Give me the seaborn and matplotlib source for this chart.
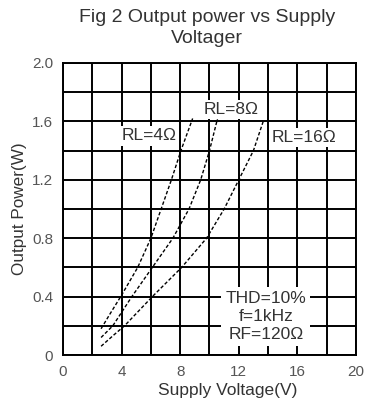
import matplotlib
matplotlib.use("Agg")
import matplotlib.pyplot as plt
import seaborn as sns
import pandas as pd

# Data
v_4 = [2.6, 3.2, 4.0, 5.1, 6.0, 6.7, 7.4, 8.05, 8.85]
p_4 = [0.18, 0.28, 0.41, 0.60, 0.80, 1.00, 1.20, 1.40, 1.62]
v_8 = [2.6, 3.4, 4.7, 6.1, 7.5, 8.6, 9.4, 10.0, 10.55]
p_8 = [0.12, 0.20, 0.40, 0.60, 0.80, 1.00, 1.20, 1.40, 1.62]
v_16 = [2.6, 3.5, 4.2, 6.1, 8.1, 9.8, 11.0, 12.0, 13.0, 13.7]
p_16 = [0.06, 0.14, 0.20, 0.40, 0.60, 0.80, 1.00, 1.20, 1.40, 1.61]

x_ticks = [0, 4, 8, 12, 16, 20]
y_ticks = [0, 0.4, 0.8, 1.2, 1.6, 2.0]
y_tick_labels = ["0", "0.4", "0.8", "1.2", "1.6", "2.0"]

title = "Fig 2 Output power vs Supply\nVoltager"
x_label = "Supply Voltage(V)"
y_label = "Output Power(W)"
curve_labels = ["RL=4Ω", "RL=8Ω", "RL=16Ω"]
cond_text = "THD=10%\nf=1kHz\nRF=120Ω"

sns.set_style("white")
plt.rcParams["font.family"] = ["Liberation Sans", "DejaVu Sans"]

df = pd.concat([
    pd.DataFrame({"V": v_4, "P": p_4, "RL": curve_labels[0]}),
    pd.DataFrame({"V": v_8, "P": p_8, "RL": curve_labels[1]}),
    pd.DataFrame({"V": v_16, "P": p_16, "RL": curve_labels[2]}),
], ignore_index=True)

fig = plt.figure(figsize=(3.65, 4.03), dpi=100)
ax = fig.add_axes([0.1726, 0.1191, 0.8027, 0.7246])

sns.lineplot(data=df, x="V", y="P", units="RL", estimator=None, sort=False,
             color="black", lw=1.0, ax=ax, legend=False, zorder=3)
for ln in ax.lines:
    ln.set_linestyle((0, (2.5, 1.5)))

ax.set_xlim(0, 20)
ax.set_ylim(0, 2.0)
ax.set_xticks(x_ticks)
ax.set_yticks(y_ticks)
ax.set_yticklabels(y_tick_labels)
ax.set_xticks([i for i in range(2, 20, 4)], minor=True)
ax.set_yticks([0.2, 0.6, 1.0, 1.4, 1.8], minor=True)
ax.grid(True, which="both", color="black", lw=1.4)
ax.set_axisbelow(True)
ax.tick_params(which="both", length=0, labelsize=11, colors="#555555")
ax.tick_params(axis="y", pad=7)
ax.tick_params(axis="x", pad=7)
for s in ax.spines.values():
    s.set_color("black")
    s.set_linewidth(1.4)

ax.set_xlabel(x_label, fontsize=12.5, color="#333333", va="center")
ax.xaxis.set_label_coords(0.561, -0.123)
ax.set_ylabel(y_label, fontsize=12.3, color="#333333", va="center")
ax.yaxis.set_label_coords(-0.147, 0.5)
fig.suptitle(title, fontsize=14, color="#333333", x=0.568, y=0.978,
             linespacing=1.3)

bb = dict(facecolor="white", edgecolor="none", pad=1.5)
ax.text(5.9, 1.5, curve_labels[0], fontsize=12.5, ha="center", va="center",
        color="#333333", bbox=bb, zorder=4)
ax.text(11.5, 1.68, curve_labels[1], fontsize=12.5, ha="center", va="center",
        color="#333333", bbox=bb, zorder=4)
ax.text(16.45, 1.49, curve_labels[2], fontsize=12.5, ha="center", va="center",
        color="#333333", bbox=bb, zorder=4)
ax.text(13.85, 0.265, cond_text, fontsize=12.5, ha="center", va="center",
        color="#333333", linespacing=1.23, zorder=4,
        bbox=dict(facecolor="white", edgecolor="none", pad=3))

fig.savefig("out.png", dpi=100)
